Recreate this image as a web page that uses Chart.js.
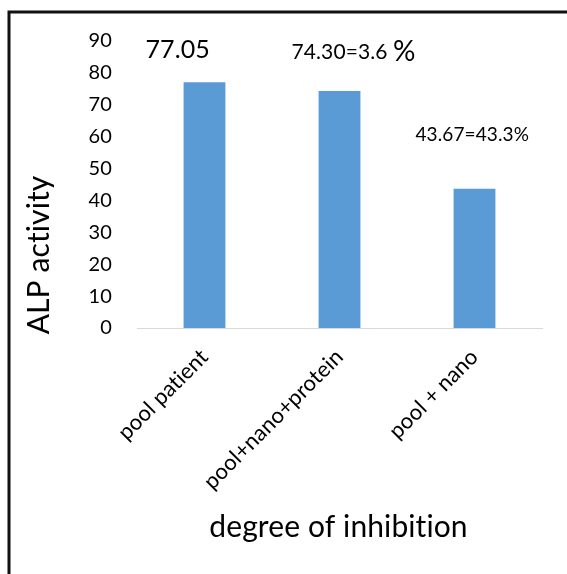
<!DOCTYPE html>
<html>
<head>
<meta charset="utf-8">
<script src="https://cdn.jsdelivr.net/npm/chart.js@4/dist/chart.umd.min.js"></script>
<style>
  html, body { margin: 0; padding: 0; background: #fff; }
  #wrap { width: 567px; height: 574px; position: relative; }
</style>
</head>
<body>
<div id="wrap"><canvas id="c" width="567" height="574"></canvas></div>
<script>
// ALP activity per sample group
const categories = ['pool patient', 'pool+nano+protein', 'pool + nano'];
const alpActivity = [77.05, 74.30, 43.67];
const valueLabels = ['77.05', '74.30=3.6 ', '43.67=43.3%'];
const yTicks = [0, 10, 20, 30, 40, 50, 60, 70, 80, 90];

const FONT = 'Lato, "Open Sans", sans-serif';

// Frame lines along the top and left edge of the figure
const framePlugin = {
  id: 'frame',
  beforeDraw(chart) {
    const ctx = chart.ctx;
    // a tiny letter spacing keeps "ti" from collapsing into a ligature
    if ('letterSpacing' in ctx) ctx.letterSpacing = '0.1px';
    ctx.save();
    ctx.fillStyle = '#fff';
    ctx.fillRect(0, 0, chart.width, chart.height);
    ctx.strokeStyle = '#111';
    ctx.lineWidth = 3;
    ctx.beginPath();
    ctx.moveTo(9, chart.height);
    ctx.lineTo(9, 12);
    ctx.lineTo(chart.width, 12);
    ctx.stroke();
    ctx.restore();
  }
};

// Axis titles drawn by hand so they sit where the layout wants them
const titlesPlugin = {
  id: 'titles',
  afterDraw(chart) {
    const ctx = chart.ctx;
    const a = chart.chartArea;
    ctx.save();
    ctx.fillStyle = '#000';
    ctx.textAlign = 'center';
    ctx.textBaseline = 'middle';
    ctx.font = '30px ' + FONT;
    ctx.fillText('degree of inhibition', (a.left + a.right) / 2 - 1, 527);
    ctx.translate(39, 255);
    ctx.rotate(-Math.PI / 2);
    ctx.fillText('ALP activity', 0, 0);
    ctx.restore();
  }
};

// Text annotations above the bars
const valueLabelPlugin = {
  id: 'valueLabels',
  afterDatasetsDraw(chart, args, opts) {
    const ctx = chart.ctx;
    const xs = chart.scales.x, ys = chart.scales.y;
    ctx.save();
    ctx.fillStyle = '#000';
    ctx.textBaseline = 'middle';
    ctx.textAlign = 'left';
    valueLabels.forEach((txt, i) => {
      const p = opts.place[i];
      const x = xs.getPixelForValue(i) + p.dx;
      const y = ys.getPixelForValue(p.at);
      ctx.font = p.size + 'px ' + FONT;
      ctx.fillText(txt, x, y);
      if (p.suffix) {
        const w = ctx.measureText(txt).width;
        ctx.font = p.suffixSize + 'px ' + FONT;
        ctx.fillText(p.suffix, x + w, y);
      }
    });
    ctx.restore();
  }
};

new Chart(document.getElementById('c'), {
  type: 'bar',
  data: {
    labels: categories,
    datasets: [{
      data: alpActivity,
      backgroundColor: '#5b9bd5',
      borderWidth: 0,
      barPercentage: 0.31,
      categoryPercentage: 1.0
    }]
  },
  options: {
    responsive: false,
    animation: false,
    devicePixelRatio: 1,
    layout: { padding: { top: 41, right: 25, left: 0, bottom: 0 } },
    plugins: {
      legend: { display: false },
      tooltip: { enabled: false },
      valueLabels: {
        place: [
          { dx: -59, at: 87.1, size: 25 },
          { dx: -48, at: 86.5, size: 21, suffix: '%', suffixSize: 28 },
          { dx: -59, at: 60.5, size: 19 }
        ]
      }
    },
    scales: {
      x: {
        grid: { display: false },
        border: { display: true, color: '#d9d9d9', width: 1 },
        ticks: {
          color: '#000',
          font: { family: FONT, size: 22 },
          minRotation: 45,
          maxRotation: 45,
          autoSkip: false,
          padding: 8
        },
        afterFit(scale) { scale.height = 574 - 328; }
      },
      y: {
        min: 0,
        max: 90,
        grid: { display: false },
        border: { display: false },
        afterBuildTicks(scale) { scale.ticks = yTicks.map(v => ({ value: v })); },
        ticks: {
          color: '#000',
          font: { family: FONT, size: 20 },
          padding: 17
        },
        afterFit(scale) { scale.width = 137; }
      }
    }
  },
  plugins: [framePlugin, titlesPlugin, valueLabelPlugin]
});
</script>
</body>
</html>
